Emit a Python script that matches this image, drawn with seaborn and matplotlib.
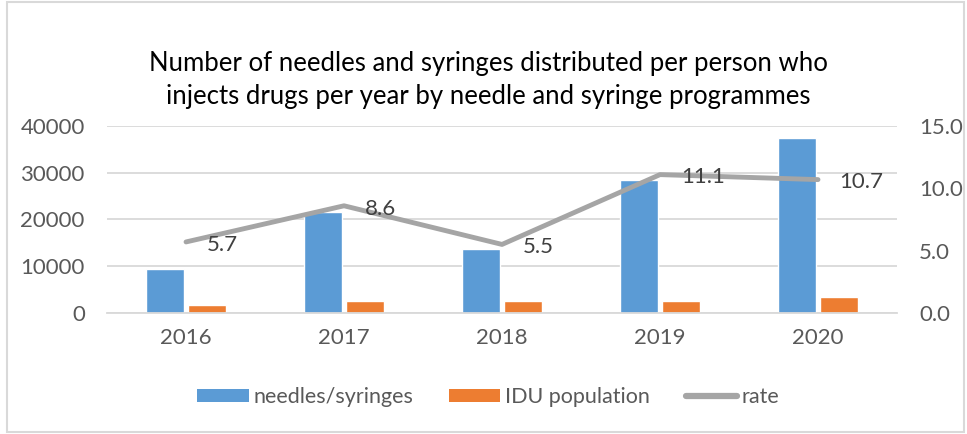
import matplotlib
matplotlib.use("Agg")
import matplotlib.pyplot as plt
import seaborn as sns
import pandas as pd
from matplotlib.patches import Patch, Rectangle
from matplotlib.lines import Line2D

years = ["2016", "2017", "2018", "2019", "2020"]
needles = [9500, 21500, 13600, 28500, 37500]
idu = [1700, 2500, 2500, 2600, 3500]
rate = [5.7, 8.6, 5.5, 11.1, 10.7]
series_names = ["needles/syringes", "IDU population", "rate"]
title = "Number of needles and syringes distributed per person who\ninjects drugs per year by needle and syringe programmes"

BLUE = "#5B9BD5"
ORANGE = "#ED7D31"
GRAY = "#A5A5A5"
TEXT = "#595959"
GRID = "#D9D9D9"

sns.set_theme(style="white")
plt.rcParams["font.family"] = ["Lato", "DejaVu Sans"]

df = pd.DataFrame({
    "year": years * 2,
    "value": needles + idu,
    "series": [series_names[0]] * len(years) + [series_names[1]] * len(years),
})

fig = plt.figure(figsize=(9.67, 4.34), dpi=100)
ax = fig.add_axes([0.1107, 0.2788, 0.8169, 0.4309])

sns.barplot(data=df, x="year", y="value", hue="series", order=years,
            hue_order=series_names[:2], palette=[BLUE, ORANGE],
            width=0.53, gap=0.11, saturation=1, ax=ax, legend=False)

ax.set_ylim(0, 40000)
ax.set_yticks(range(0, 40001, 10000))
ax.yaxis.grid(True, color=GRID, linewidth=1.3)
ax.set_axisbelow(True)
for s in ["top", "right", "left"]:
    ax.spines[s].set_visible(False)
ax.spines["bottom"].set_color(GRID)
ax.spines["bottom"].set_linewidth(1.3)
ax.set_xlabel("")
ax.set_ylabel("")
ax.tick_params(axis="both", colors=TEXT, labelsize=16, length=0)
ax.tick_params(axis="y", pad=16)
ax.tick_params(axis="x", pad=11)

ax2 = ax.twinx()
sns.pointplot(x=years, y=rate, order=years, color=GRAY, markers="",
              linewidth=3.5, ax=ax2, errorbar=None)
ax2.set_ylim(0, 15)
ax2.set_yticks([0, 5, 10, 15])
ax2.set_yticklabels([f"{v:.1f}" for v in [0, 5, 10, 15]])
for s in ax2.spines.values():
    s.set_visible(False)
ax2.tick_params(axis="y", colors=TEXT, labelsize=16, length=0, pad=16)
ax2.set_ylabel("")
ax2.grid(False)
for i, v in enumerate(rate):
    ax2.annotate(f"{v:.1f}", (i, v), xytext=(15, -2), textcoords="offset points",
                 ha="left", va="center", fontsize=16, color="#404040")
ax.set_xlim(-0.5, len(years) - 0.5)
ax2.set_xlim(-0.5, len(years) - 0.5)

fig.text(0.505, 0.882, title, ha="center", va="top", fontsize=18.5,
         color="#000000", linespacing=1.38)

handles = [Patch(facecolor=BLUE, edgecolor="none"),
           Patch(facecolor=ORANGE, edgecolor="none"),
           Line2D([], [], color=GRAY, linewidth=4.5)]
fig.legend(handles, series_names, loc="center", bbox_to_anchor=(0.505, 0.085),
           ncol=3, frameon=False, fontsize=15.5, labelcolor=TEXT,
           handlelength=2.4, handleheight=0.55, handletextpad=0.22, columnspacing=1.65)

fig.add_artist(Rectangle((0.007, 0.005), 0.99, 0.99, transform=fig.transFigure,
                         fill=False, edgecolor=GRID, linewidth=1.5))

fig.savefig("out.png", dpi=100)
